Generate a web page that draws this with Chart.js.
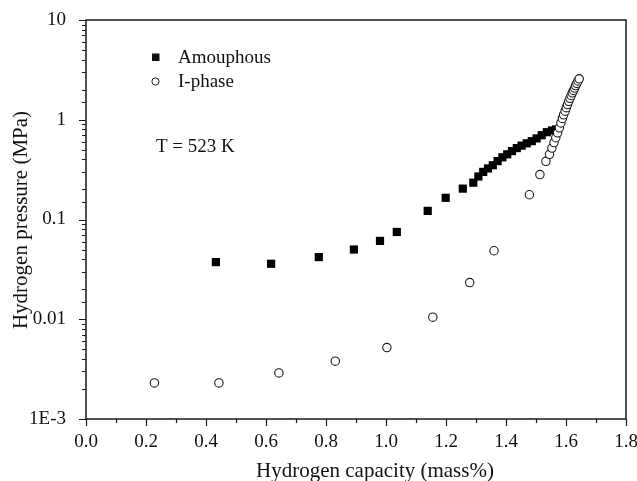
<!DOCTYPE html>
<html>
<head>
<meta charset="utf-8">
<script src="https://cdn.jsdelivr.net/npm/chart.js@4.4.1/dist/chart.umd.min.js"></script>
<style>
	html, body { margin: 0; padding: 0; background: #fff; }
	#wrap { width: 637px; height: 481px; }
</style>
</head>
<body>
<div id="wrap"><canvas id="pct"></canvas></div>
<script>
// amorphous alloy
var amorX = [0.433, 0.617, 0.776, 0.893, 0.98, 1.036, 1.139, 1.199, 1.256, 1.291, 1.308, 1.324, 1.340, 1.356, 1.372, 1.388, 1.404, 1.420, 1.436, 1.452, 1.469, 1.486, 1.502, 1.519, 1.536, 1.553, 1.567];
var amorY = [0.0374, 0.036, 0.042, 0.050, 0.061, 0.075, 0.122, 0.165, 0.204, 0.234, 0.27, 0.30, 0.325, 0.35, 0.385, 0.42, 0.45, 0.485, 0.52, 0.55, 0.58, 0.61, 0.65, 0.70, 0.75, 0.78, 0.80];

// I-phase
var iphX = [0.228, 0.443, 0.643, 0.831, 1.003, 1.156, 1.279, 1.36, 1.478, 1.513, 1.533, 1.545, 1.553, 1.560, 1.566, 1.572, 1.578, 1.583, 1.588, 1.592, 1.597, 1.601, 1.605, 1.609, 1.613, 1.617, 1.621, 1.625, 1.629, 1.632, 1.636, 1.640, 1.644];
var iphY = [0.0023, 0.0023, 0.0029, 0.0038, 0.0052, 0.0105, 0.0233, 0.0486, 0.177, 0.282, 0.383, 0.45, 0.52, 0.59, 0.66, 0.74, 0.83, 0.93, 1.03, 1.12, 1.22, 1.32, 1.42, 1.53, 1.64, 1.75, 1.86, 1.97, 2.08, 2.2, 2.32, 2.45, 2.57];

var seriesNames = ["Amouphous", "I-phase"];
var yTickLabels = { "10": "10", "1": "1", "0.1": "0.1", "0.01": "0.01", "0.001": "1E-3" };
var xTitle = "Hydrogen capacity (mass%)";
var yTitle = "Hydrogen pressure (MPa)";
var note = "T = 523 K";

var serif = "'Liberation Serif', 'Times New Roman', serif";

function toPoints(xs, ys) {
	var pts = [];
	for (var i = 0; i < xs.length; i++) {
		pts.push({ x: xs[i], y: ys[i] });
	}
	return pts;
}

function isDecade(v) {
	var l = Math.log10(v);
	return Math.abs(l - Math.round(l)) < 1e-6;
}

// frame, tick marks, axis titles and legend
var decorPlugin = {
	id: "decor",
	afterDraw: function (chart) {
		var ctx = chart.ctx;
		var a = chart.chartArea;
		var xs = chart.scales.x, ys = chart.scales.y;
		ctx.save();
		ctx.strokeStyle = "#1a1a1a";
		ctx.lineWidth = 1.5;
		ctx.strokeRect(a.left, a.top, a.right - a.left, a.bottom - a.top);

		ctx.lineWidth = 1.2;
		ctx.beginPath();
		ys.ticks.forEach(function (t) {
			var py = Math.round(ys.getPixelForValue(t.value)) + 0.5;
			var len = isDecade(t.value) ? 7 : 4;
			ctx.moveTo(a.left, py);
			ctx.lineTo(a.left - len, py);
		});
		xs.ticks.forEach(function (t, i) {
			var px = Math.round(xs.getPixelForValue(t.value)) + 0.5;
			var len = (i % 2 === 0) ? 7 : 4;
			ctx.moveTo(px, a.bottom);
			ctx.lineTo(px, a.bottom + len);
		});
		ctx.stroke();

		// axis titles
		ctx.fillStyle = "#111";
		ctx.font = "21px " + serif;
		ctx.textAlign = "center";
		ctx.textBaseline = "middle";
		ctx.fillText(xTitle, 375, 471);
		ctx.save();
		ctx.translate(21, 220);
		ctx.rotate(-Math.PI / 2);
		ctx.fillText(yTitle, 0, 0);
		ctx.restore();

		// legend
		ctx.font = "19px " + serif;
		ctx.textAlign = "left";
		ctx.fillRect(152, 53.5, 7.5, 7.5);
		ctx.fillText(seriesNames[0], 178, 58);
		ctx.beginPath();
		ctx.arc(155.5, 81.5, 3.6, 0, Math.PI * 2);
		ctx.lineWidth = 1;
		ctx.stroke();
		ctx.fillText(seriesNames[1], 178, 82);
		ctx.fillText(note, 156, 147);
		ctx.restore();
	}
};

var ctxa = document.getElementById("pct").getContext("2d");

var pctChart = new Chart(ctxa, {
	type: "scatter",
	data: {
		datasets: [
			{
				label: seriesNames[1],
				data: toPoints(iphX, iphY),
				pointStyle: "circle",
				pointRadius: 4.2,
				pointBackgroundColor: "#ffffff",
				pointBorderColor: "#1a1a1a",
				pointBorderWidth: 1.1,
				order: 0
			},
			{
				label: seriesNames[0],
				data: toPoints(amorX, amorY),
				pointStyle: "rect",
				pointRadius: 5.8,
				pointBackgroundColor: "#000000",
				pointBorderColor: "#000000",
				pointBorderWidth: 0,
				order: 1
			}
		]
	},
	options: {
		responsive: true,
		maintainAspectRatio: false,
		animation: false,
		layout: { padding: { left: 0, right: 11, top: 20, bottom: 0 } },
		plugins: {
			legend: { display: false },
			tooltip: { enabled: false }
		},
		scales: {
			x: {
				type: "linear",
				min: 0,
				max: 1.8,
				grid: { display: false, drawTicks: false },
				border: { display: false },
				afterFit: function (s) {
					s.height = 62;
					s.paddingLeft = 0;
					s.paddingRight = 0;
				},
				ticks: {
					stepSize: 0.1,
					autoSkip: false,
					maxRotation: 0,
					padding: 12,
					color: "#111",
					font: { family: serif, size: 19 },
					callback: function (v, i) {
						return (i % 2 === 0) ? v.toFixed(1) : "";
					}
				}
			},
			y: {
				type: "logarithmic",
				min: 0.001,
				max: 10,
				grid: { display: false, drawTicks: false },
				border: { display: false },
				afterFit: function (s) {
					s.width = 86;
					s.paddingTop = 0;
					s.paddingBottom = 0;
				},
				ticks: {
					autoSkip: false,
					padding: 20,
					color: "#111",
					font: { family: serif, size: 19 },
					callback: function (v) {
						if (!isDecade(v)) return "";
						var key = String(Math.pow(10, Math.round(Math.log10(v))));
						return yTickLabels[key] || "";
					}
				}
			}
		}
	},
	plugins: [decorPlugin]
});
</script>
</body>
</html>
